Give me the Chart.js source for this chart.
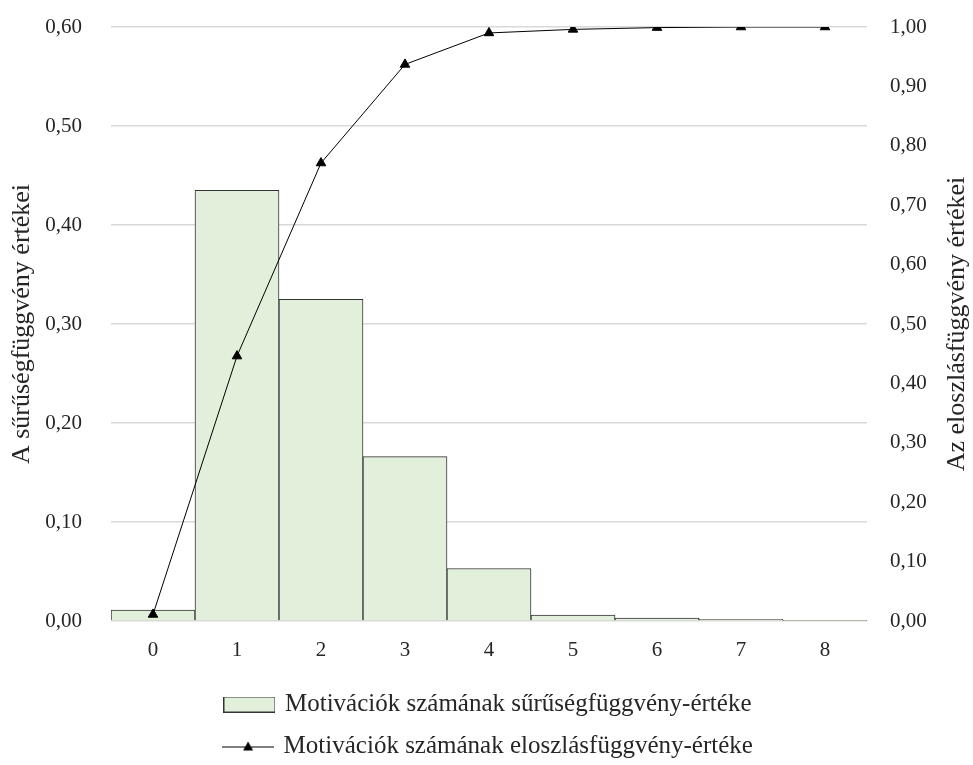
<!DOCTYPE html>
<html>
<head>
<meta charset="utf-8">
<script src="https://cdn.jsdelivr.net/npm/chart.js@4"></script>
<style>
html,body{margin:0;padding:0;background:#fff}
#wrap{width:973px;height:765px}
</style>
</head>
<body>
<div id="wrap"><canvas id="c" width="973" height="765"></canvas></div>
<script>
// adatok
let kategoriak = ["0","1","2","3","4","5","6","7","8"]
let suruseg = [0.011, 0.435, 0.325, 0.166, 0.053, 0.006, 0.003, 0.0017, 0.0003]
let eloszlas = [0.011, 0.446, 0.771, 0.937, 0.990, 0.996, 0.999, 1.000, 1.000]
let balTickek = [0, 0.1, 0.2, 0.3, 0.4, 0.5, 0.6]
let jobbTickek = [0, 0.1, 0.2, 0.3, 0.4, 0.5, 0.6, 0.7, 0.8, 0.9, 1.0]
let balCim = "A sűrűségfüggvény értékei"
let jobbCim = "Az eloszlásfüggvény értékei"

let szoveg = "#262626"
let zold = "#e2efda"
let betu = "'Liberation Serif', 'DejaVu Serif', serif"

Chart.defaults.font.family = betu
Chart.defaults.font.size = 21
Chart.defaults.color = szoveg

function fmt(v){
return Number(v).toFixed(2).replace(".", ",")
}

// jelmagyarazat ikonok
function dobozIkon(){
let cv = document.createElement("canvas")
cv.width = 52
cv.height = 16
let g = cv.getContext("2d")
g.fillStyle = zold
g.fillRect(0.5, 0.5, 51, 15)
g.strokeStyle = "#333"
g.lineWidth = 1
g.strokeRect(0.5, 0.5, 51, 15)
return cv
}

function vonalIkon(){
let cv = document.createElement("canvas")
cv.width = 52
cv.height = 14
let g = cv.getContext("2d")
g.strokeStyle = "#000"
g.lineWidth = 1
g.beginPath()
g.moveTo(0, 7.5)
g.lineTo(52, 7.5)
g.stroke()
g.fillStyle = "#000"
g.beginPath()
g.moveTo(26, 2)
g.lineTo(31, 11)
g.lineTo(21, 11)
g.closePath()
g.fill()
return cv
}

let ikonok = [dobozIkon(), vonalIkon()]

// tengelycimek, mindketto alulrol felfele olvashato
let cimek = {
id:"cimek",
afterDraw(chart){
let ctx = chart.ctx
let ca = chart.chartArea
let kozep = (ca.top + ca.bottom) / 2
let rajz = function(szov, x){
ctx.save()
ctx.translate(x, kozep)
ctx.rotate(-Math.PI / 2)
ctx.font = "26px " + betu
ctx.fillStyle = szoveg
ctx.textAlign = "center"
ctx.textBaseline = "middle"
ctx.fillText(szov, 0, 0)
ctx.restore()
}
rajz(balCim, chart.scales.y.left + 22)
rajz(jobbCim, chart.scales.y1.right - 16)
}
}

function fuggolegesFit(szel){
return function(s){
s.width = szel
s.paddingTop = 0
s.paddingBottom = 0
}
}

new Chart(document.getElementById("c"),{
data:{
labels:kategoriak,
datasets:[
{
type:"bar",
label:"Motivációk számának sűrűségfüggvény-értéke",
data:suruseg,
backgroundColor:zold,
borderColor:"#333",
borderWidth:1,
barPercentage:1,
categoryPercentage:1,
yAxisID:"y",
order:2
},
{
type:"line",
label:"Motivációk számának eloszlásfüggvény-értéke",
data:eloszlas,
borderColor:"#000",
backgroundColor:"#000",
borderWidth:1,
pointStyle:"triangle",
pointRadius:5.5,
pointHoverRadius:5.5,
tension:0,
yAxisID:"y1",
order:1
}
]
},
options:{
responsive:false,
animation:false,
layout:{padding:{left:0,right:0,top:27,bottom:-4}},
plugins:{
tooltip:{enabled:false},
legend:{
position:"bottom",
fullSize:false,
labels:{
usePointStyle:true,
pointStyleWidth:46,
padding:17,
color:szoveg,
font:{size:25},
sort:function(a, b){ return a.datasetIndex - b.datasetIndex },
generateLabels:function(chart){
let items = Chart.defaults.plugins.legend.labels.generateLabels(chart)
items.forEach(function(it){ it.pointStyle = ikonok[it.datasetIndex] })
return items
}
}
}
},
scales:{
x:{
grid:{display:false},
border:{display:false},
ticks:{padding:9},
afterFit:function(s){ s.height = 54 }
},
y:{
position:"left",
min:0,
max:0.6,
afterBuildTicks:function(s){ s.ticks = balTickek.map(v => ({value:v})) },
afterFit:fuggolegesFit(111),
ticks:{callback:fmt, padding:29},
grid:{color:"#d9d9d9", lineWidth:1.5, drawTicks:false},
border:{display:false}
},
y1:{
position:"right",
min:0,
max:1,
afterBuildTicks:function(s){ s.ticks = jobbTickek.map(v => ({value:v})) },
afterFit:fuggolegesFit(106),
ticks:{callback:fmt, padding:23},
grid:{display:false, drawTicks:false},
border:{display:false}
}
}
},
plugins:[cimek]
})
</script>
</body>
</html>
